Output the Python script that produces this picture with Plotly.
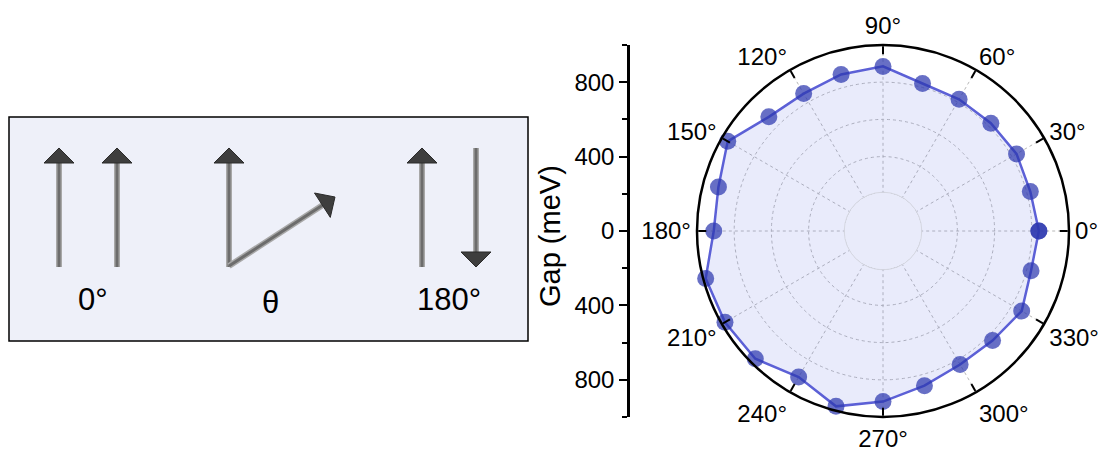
import plotly.graph_objects as go

W, H = 1110, 456
FONT = "Liberation Sans, Arial, sans-serif"

# ---- data ----
angles_deg = [0, 15, 30, 45, 60, 75, 90, 105, 120, 135, 150, 165, 180,
              195, 210, 225, 240, 255, 270, 285, 300, 315, 330, 345, 360]
gap_mev = [838, 820, 829, 820, 818, 821, 885, 871, 853, 868, 964, 916, 910,
           987, 981, 971, 907, 976, 917, 861, 829, 833, 861, 824, 838]

angle_ticks = [0, 30, 60, 90, 120, 150, 180, 210, 240, 270, 300, 330]
angle_labels = [f"{a}°" for a in angle_ticks]
gap_tickvals = [-800, -400, 0, 400, 800]
gap_ticktext = ["800", "400", "0", "400", "800"]
diagram_labels = ["0°", "θ", "180°"]


def px(x):
    return x / W


def py(y):
    return 1 - y / H


fig = go.Figure()

fig.add_trace(go.Scatterpolar(
    r=gap_mev, theta=angles_deg, mode="lines+markers",
    fill="toself", fillcolor="rgba(110,120,225,0.15)",
    line=dict(color="rgb(92,96,214)", width=2.5),
    marker=dict(size=17, color="rgba(45,55,175,0.72)"),
    subplot="polar", showlegend=False, hoverinfo="skip",
))

# invisible trace to carry the vertical Gap axis
fig.add_trace(go.Scatter(
    x=[0, 0], y=[-1000, 1000], xaxis="x", yaxis="y", mode="markers",
    marker=dict(opacity=0), showlegend=False, hoverinfo="skip",
))

cx, cy, R = 883, 231, 186
shapes = []
# hole centre of polar plot (same tint as the filled area), covering inner axis line
rh = 0.2 * R + 1.6
shapes.append(dict(type="circle", xref="paper", yref="paper",
                   x0=px(cx - rh), x1=px(cx + rh), y0=py(cy + rh), y1=py(cy - rh),
                   fillcolor="rgb(233,235,250)", line=dict(color="#d6d8e2", width=1),
                   layer="above"))

# diagram box
shapes.append(dict(type="rect", xref="paper", yref="paper",
                   x0=px(9), x1=px(528), y0=py(341), y1=py(117),
                   fillcolor="#eef0f9", line=dict(color="black", width=1.5),
                   layer="below"))


def shaft(x0, y0, x1, y1):
    shapes.append(dict(type="line", xref="paper", yref="paper",
                       x0=px(x0), y0=py(y0), x1=px(x1), y1=py(y1),
                       line=dict(color="#a8a8a8", width=6)))
    shapes.append(dict(type="line", xref="paper", yref="paper",
                       x0=px(x0), y0=py(y0), x1=px(x1), y1=py(y1),
                       line=dict(color="#6c6c6c", width=3)))


def head(pts):
    p = "M " + " L ".join(f"{px(a):.5f},{py(b):.5f}" for a, b in pts) + " Z"
    shapes.append(dict(type="path", xref="paper", yref="paper", path=p,
                       fillcolor="#3e3e3e", line=dict(color="#2a2a2a", width=1)))


for x in [59, 117, 229, 422]:
    shaft(x, 267, x, 163)
    head([(x - 15, 163), (x + 15, 163), (x, 148)])

shaft(476, 148, 476, 252)
head([(461, 252), (491, 252), (476, 267)])

shaft(229, 266, 322.4, 205.2)
head([(330.3, 217.4), (314.5, 193.0), (335, 197)])

annotations = []
for (x, y), t in zip([(93, 299), (270, 302), (449, 299)], diagram_labels):
    annotations.append(dict(x=px(x), y=py(y), xref="paper", yref="paper",
                            text=t, showarrow=False,
                            font=dict(family=FONT, size=31, color="black"),
                            xanchor="center", yanchor="middle"))
annotations.append(dict(x=px(550), y=py(236), xref="paper", yref="paper",
                        text="Gap (meV)", textangle=-90, showarrow=False,
                        font=dict(family=FONT, size=29, color="black"),
                        xanchor="center", yanchor="middle"))

fig.update_layout(
    width=W, height=H,
    margin=dict(l=0, r=0, t=0, b=0),
    paper_bgcolor="white", plot_bgcolor="rgba(0,0,0,0)",
    font=dict(family=FONT, color="black"),
    showlegend=False,
    polar=dict(
        domain=dict(x=[px(cx - R), px(cx + R)], y=[py(cy + R), py(cy - R)]),
        hole=0.2,
        bgcolor="white",
        radialaxis=dict(range=[200, 1000], tickvals=[400, 600, 800],
                        showticklabels=False, ticks="", showline=False,
                        gridcolor="#b8b8b8", griddash="dot", gridwidth=1),
        angularaxis=dict(rotation=0, direction="counterclockwise",
                         tickmode="array", tickvals=angle_ticks, ticktext=angle_labels,
                         ticks="inside", ticklen=8, tickwidth=2, tickcolor="black",
                         showline=True, linecolor="black", linewidth=2.5,
                         gridcolor="#b8b8b8", griddash="dot", gridwidth=1,
                         tickfont=dict(family=FONT, size=24, color="black")),
    ),
    xaxis=dict(domain=[px(630), px(640)], range=[0, 1], visible=False),
    yaxis=dict(domain=[py(cy + R), py(cy - R)], range=[-1000, 1000],
               anchor="x", side="left",
               tickmode="array", tickvals=gap_tickvals, ticktext=gap_ticktext,
               ticks="outside", ticklen=8, tickwidth=2, tickcolor="black",
               showline=True, linecolor="black", linewidth=2.5,
               showgrid=False, zeroline=False,
               minor=dict(dtick=200, tick0=0, ticks="outside", ticklen=5,
                          tickwidth=2, tickcolor="black", showgrid=False),
               tickfont=dict(family=FONT, size=24, color="black")),
    shapes=shapes,
    annotations=annotations,
)

fig.write_html("out.html")
